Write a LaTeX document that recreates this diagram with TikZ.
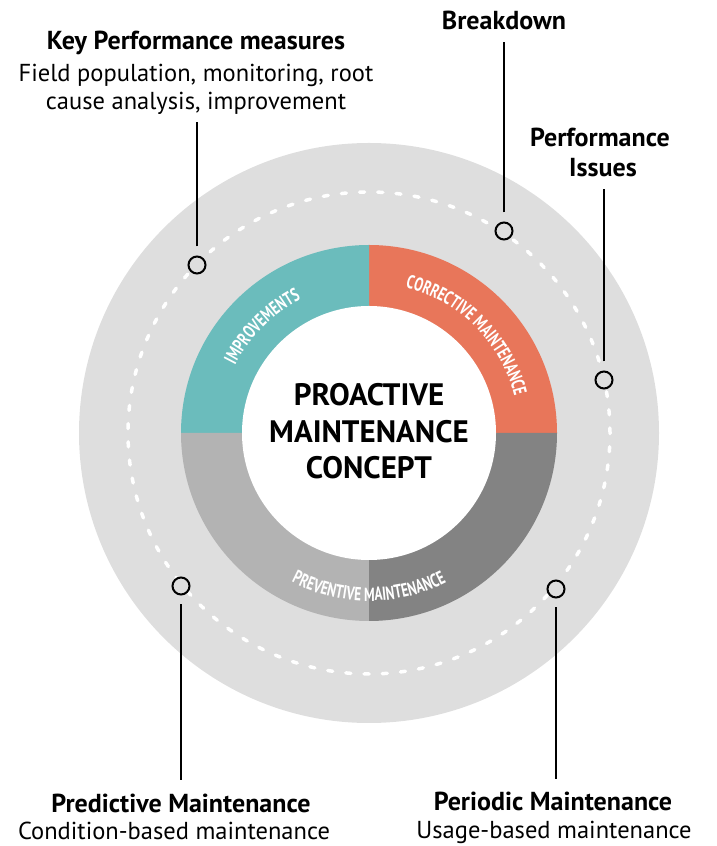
\documentclass[tikz,border=0pt]{standalone}
\usepackage{fontspec}
\setmainfont{PT Sans}
\newfontfamily\ringfamily[FakeStretch=0.7]{PT Sans}
\usetikzlibrary{decorations.text}

\definecolor{outergray}{HTML}{DEDEDE}
\definecolor{improveteal}{HTML}{6BBCBC}
\definecolor{correctcoral}{HTML}{E8765A}
\definecolor{prevdark}{HTML}{838383}
\definecolor{prevlight}{HTML}{B3B3B3}

\newcommand{\ringfont}{\ringfamily\fontsize{19}{19}\selectfont\bfseries}

\begin{document}
\begin{tikzpicture}[x=1pt, y=1pt,
    ringdot/.style={circle, draw=black, line width=2pt, fill=outergray, minimum size=17pt, inner sep=0pt, outer sep=10pt},
    leader/.style={line width=2pt, black},
    headtext/.style={font=\fontsize{26}{26}\selectfont\bfseries, anchor=base},
    subtext/.style={font=\fontsize{24.5}{24.5}\selectfont, anchor=base},
    toplabel/.style={text depth=5pt, inner ysep=7pt},
    botlabel/.style={text height=18pt, inner ysep=14pt},
    ringtext/.style={decorate, decoration={text along path, text align=center, text color=white, text={|\ringfont|#1}}}]
    \useasboundingbox (0, 0) rectangle (717, 846);
    \coordinate (c) at (369, 413);

    % background disc and dashed orbit
    \fill[outergray] (c) circle[radius=290pt];
    \draw[white, line width=3.5pt, line cap=round, dash pattern=on 5pt off 13.24pt] (c) circle[radius=241pt];

    % the four quarters of the ring
    \fill[correctcoral] (c) -- ++(0:188) arc[start angle=0, end angle=90, radius=188pt] -- cycle;
    \fill[improveteal] (c) -- ++(90:188) arc[start angle=90, end angle=180, radius=188pt] -- cycle;
    \fill[prevlight] (c) -- ++(180:188) arc[start angle=180, end angle=270, radius=188pt] -- cycle;
    \fill[prevdark] (c) -- ++(270:188) arc[start angle=270, end angle=360, radius=188pt] -- cycle;
    \fill[white] (c) circle[radius=127pt];

    \path[ringtext=IMPROVEMENTS] ([shift={(180:150)}]c) arc[start angle=180, end angle=90, radius=150pt];
    \path[ringtext=CORRECTIVE MAINTENANCE] ([shift={(100:150)}]c) arc[start angle=100, end angle=-10, radius=150pt];
    \path[ringtext=PREVENTIVE MAINTENANCE] ([shift={(200:168)}]c) arc[start angle=200, end angle=340, radius=168pt];

    \node[font=\fontsize{31}{36.5}\selectfont\bfseries, align=center] (concept) at (369, 414.5) {PROACTIVE\\MAINTENANCE\\CONCEPT};

    % labels
    \node[headtext] (kpm) at (196, 796) {Key Performance measures};
    \node[subtext] (kpm2) at (196, 764) {Field population, monitoring, root};
    \node[subtext, toplabel] (kpm3) at (196, 736) {cause analysis, improvement};
    \node[headtext, toplabel] (brk) at (504, 816) {Breakdown};
    \node[headtext] (perf) at (600, 699) {Performance};
    \node[headtext, toplabel] (perf2) at (603, 669) {Issues};
    \node[headtext, botlabel] (pred) at (181, 34) {Predictive Maintenance};
    \node[subtext] (pred2) at (174, 6) {Condition-based maintenance};
    \node[headtext, botlabel] (peri) at (553, 35) {Periodic Maintenance};
    \node[subtext] (peri2) at (554, 7) {Usage-based maintenance};

    % markers on the orbit
    \node[ringdot] (mkpm) at (197, 581) {};
    \node[ringdot] (mbrk) at (504, 615) {};
    \node[ringdot] (mperf) at (604, 466) {};
    \node[ringdot] (mpred) at (181, 260) {};
    \node[ringdot] (mperi) at (556, 257) {};

    \draw[leader] (mkpm) -- (mkpm |- kpm3.south);
    \draw[leader] (mbrk) -- (mbrk |- brk.south);
    \draw[leader] (mperf) -- (mperf |- perf2.south);
    \draw[leader] (mpred) -- (mpred |- pred.north);
    \draw[leader] (mperi) -- (mperi |- peri.north);
\end{tikzpicture}
\end{document}
